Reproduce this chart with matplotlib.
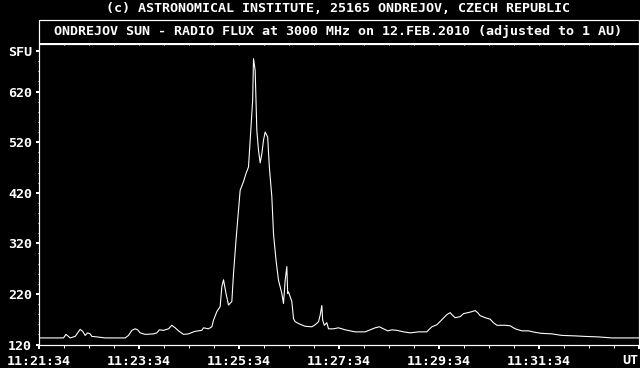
import matplotlib
matplotlib.use("Agg")
import matplotlib.pyplot as plt
from matplotlib.patches import Rectangle
from matplotlib.ticker import MultipleLocator, FixedLocator

# seconds after 11:21:34 UT
t_sec = [0, 8, 30, 33, 38, 44, 50, 53, 56, 59, 62, 64, 70, 80, 104, 108, 112, 116,
         119, 122, 128, 138, 142, 145, 150, 156, 160, 164, 168, 174, 180, 186, 188,
         196, 198, 204, 208, 210, 214, 218, 220, 222, 225, 228, 232, 234, 237, 240,
         242, 246, 249, 252, 253, 255, 257, 258, 260, 261, 262, 264, 266, 268, 270,
         272, 274, 275, 277, 280, 282, 285, 288, 292, 294, 296, 298, 299, 300, 304,
         306, 308, 314, 320, 328, 332, 336, 338, 340, 341, 343, 346, 348, 354, 360,
         368, 380, 392, 398, 404, 409, 414, 419, 424, 430, 438, 446, 456, 466, 472,
         478, 484, 490, 494, 496, 500, 506, 510, 518, 524, 527, 530, 536, 542, 546,
         550, 560, 566, 572, 580, 588, 596, 604, 616, 628, 644, 656, 672, 688, 704, 720]
flux = [133, 133, 133, 140, 133, 136, 150, 146, 138, 143, 141, 136, 135, 133, 133, 138,
        148, 151, 149, 143, 140, 141, 143, 149, 148, 151, 158, 153, 147, 140, 141, 145,
        146, 148, 153, 151, 155, 168, 185, 195, 234, 248, 221, 198, 205, 260, 326, 385,
        425, 442, 458, 471, 497, 550, 603, 685, 662, 603, 543, 504, 479, 497, 524, 540,
        533, 530, 471, 412, 339, 287, 247, 221, 201, 247, 274, 221, 224, 205, 171, 165,
        160, 156, 155, 159, 165, 178, 197, 168, 158, 163, 151, 151, 153, 149, 145, 145,
        149, 153, 155, 151, 147, 149, 148, 145, 143, 145, 145, 155, 159, 169, 179, 183,
        179, 173, 175, 181, 184, 187, 183, 177, 173, 170, 163, 158, 158, 157, 151, 147,
        147, 144, 142, 141, 138, 137, 136, 135, 133, 133, 133]

x_ticks = [0, 120, 240, 360, 480, 600, 720]
x_labels = ["11:21:34", "11:23:34", "11:25:34", "11:27:34", "11:29:34", "11:31:34", ""]
y_ticks = [120, 220, 320, 420, 520, 620, 700]
y_labels = ["120", "220", "320", "420", "520", "620", "SFU"]

plt.rcParams["font.family"] = "DejaVu Sans Mono"
plt.rcParams["font.weight"] = "bold"
plt.rcParams["font.size"] = 9.6

W, H = 640, 368
PX = 72 / 100  # points per pixel
fig = plt.figure(figsize=(W / 100, H / 100), dpi=100, facecolor="black")
L, R, T, B = 38.5, 638.5, 43.5, 344.5
ax = fig.add_axes([L / W, (H - B) / H, (R - L) / W, (B - T) / H], facecolor="black")

ax.plot(t_sec, flux, color="white", lw=1.1 * PX)
ax.set_xlim(0, 720)
ax.set_ylim(120, 715)

for s in ax.spines.values():
    s.set_color("white")
    s.set_linewidth(1.2 * PX)
ax.spines["top"].set_visible(False)

ax.xaxis.set_major_locator(FixedLocator(x_ticks))
ax.set_xticklabels(x_labels)
ax.xaxis.set_minor_locator(MultipleLocator(30))
ax.yaxis.set_major_locator(FixedLocator(y_ticks))
ax.set_yticklabels(y_labels)
ax.yaxis.set_minor_locator(MultipleLocator(20))

ax.tick_params(axis="x", which="major", colors="white", length=4 * PX, width=2 * PX, pad=4.5)
ax.tick_params(axis="x", which="minor", colors="white", length=3 * PX, width=1 * PX)
ax.tick_params(axis="y", which="major", colors="white", length=3 * PX, width=2 * PX, pad=2.5)
ax.tick_params(axis="y", which="minor", colors="white", length=1.5 * PX, width=1 * PX)

# inward ticks along the top edge
top = ax.secondary_xaxis("top")
top.xaxis.set_major_locator(FixedLocator([]))
top.xaxis.set_minor_locator(MultipleLocator(30))
top.tick_params(which="minor", direction="in", colors="white", length=2 * PX, width=1 * PX)
top.spines["top"].set_visible(False)

ax.text(1.0, -0.052, "UT", transform=ax.transAxes, ha="right", va="center", color="white")

fig.add_artist(Rectangle((L / W, (H - T) / H), (R - L) / W, 24 / H,
                         transform=fig.transFigure, fill=False, ec="white", lw=1.2 * PX))
fig.text(338 / W, 1 - 31 / H, "ONDREJOV SUN - RADIO FLUX at 3000 MHz on 12.FEB.2010 (adjusted to 1 AU)",
         ha="center", va="center", color="white")
fig.text(338 / W, 1 - 8 / H, "(c) ASTRONOMICAL INSTITUTE, 25165 ONDREJOV, CZECH REPUBLIC",
         ha="center", va="center", color="white")

fig.savefig("out.png", dpi=100, facecolor="black")
